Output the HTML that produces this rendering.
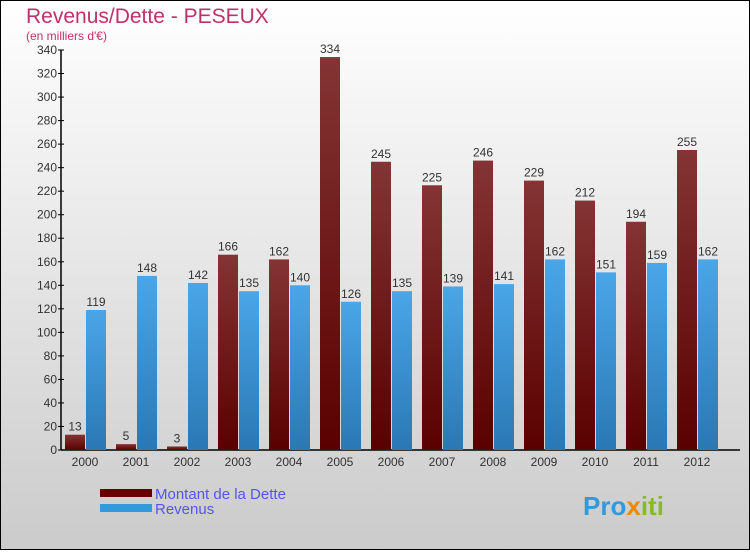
<!DOCTYPE html>
<html><head><meta charset="utf-8"><style>
body{margin:0;width:750px;height:550px;overflow:hidden;font-family:"Liberation Sans",sans-serif}
svg text{font-family:"Liberation Sans",sans-serif}
</style></head><body>
<svg id="c" width="750" height="550" xmlns="http://www.w3.org/2000/svg">
<defs>
<linearGradient id="bg" x1="0" y1="0" x2="0" y2="1"><stop offset="0" stop-color="#ffffff"/><stop offset="1" stop-color="#cbcbcb"/></linearGradient>
<linearGradient id="gd" x1="0" y1="0" x2="0" y2="1"><stop offset="0" stop-color="#843434"/><stop offset="1" stop-color="#5a0000"/></linearGradient>
<linearGradient id="gr" x1="0" y1="0" x2="0" y2="1"><stop offset="0" stop-color="#4aa6e8"/><stop offset="1" stop-color="#2a78b4"/></linearGradient>
</defs>
<rect x="0.5" y="0.5" width="749" height="549" fill="url(#bg)" stroke="#000"/>
<text x="26" y="23" font-size="21" fill="#c0306a">Revenus/Dette - PESEUX</text>
<text x="26" y="40" font-size="12" fill="#c0306a">(en milliers d'€)</text>
<g id="axes"></g><g id="bars"></g>
<rect x="100" y="489" width="52" height="8" fill="#660000"/>
<rect x="100" y="504" width="52" height="8" fill="#3399dd"/>
<text x="155" y="499" font-size="15" fill="#5555ee">Montant de la Dette</text>
<text x="155" y="514" font-size="15" fill="#5555ee">Revenus</text>
<text x="583" y="515" font-size="26" font-weight="bold" fill="#3399dd">Pro<tspan fill="#ee8800">x</tspan><tspan fill="#88bb22">iti</tspan></text>
</svg>
<script>
const years=["2000","2001","2002","2003","2004","2005","2006","2007","2008","2009","2010","2011","2012"];
const dette=[13,5,3,166,162,334,245,225,246,229,212,194,255];
const revenus=[119,148,142,135,140,126,135,139,141,162,151,159,162];
const ticks=[0,20,40,60,80,100,120,140,160,180,200,220,240,260,280,300,320,340];
const NS="http://www.w3.org/2000/svg";
const y=v=>450-v*400/340, x=i=>85+i*51;
function mk(t,a,p){const e=document.createElementNS(NS,t);for(const k in a)e.setAttribute(k,a[k]);p.appendChild(e);return e;}
const ax=document.getElementById('axes'),bs=document.getElementById('bars');
let l=mk('line',{x1:61,y1:50,x2:61,y2:450,stroke:'#000','stroke-width':1.5},ax);


l=mk('line',{x1:61,y1:450,x2:740,y2:450,stroke:'#000','stroke-width':1.5},ax);


ticks.forEach(v=>{
 const tk=mk('line',{x1:58,x2:64,y1:y(v),y2:y(v),stroke:'#000'},ax);
 
 
 const t=mk('text',{x:57,y:y(v)+4,'font-size':12,fill:'#333','text-anchor':'end'},ax);t.textContent=v;
 
 
});
years.forEach((yr,i)=>{
 const t=mk('text',{x:x(i),y:466,'font-size':12,fill:'#333','text-anchor':'middle'},ax);t.textContent=yr;
 
 
 const b1=mk('rect',{x:x(i)-20,y:y(dette[i]),width:20,height:450-y(dette[i]),fill:'url(#gd)'},bs);
 
 
 const b2=mk('rect',{x:x(i)+1,y:y(revenus[i]),width:20,height:450-y(revenus[i]),fill:'url(#gr)'},bs);
 
 
 const l1=mk('text',{x:x(i)-10,y:y(dette[i])-4,'font-size':12,fill:'#333','text-anchor':'middle'},bs);l1.textContent=dette[i];
 
 
 const l2=mk('text',{x:x(i)+11,y:y(revenus[i])-4,'font-size':12,fill:'#333','text-anchor':'middle'},bs);l2.textContent=revenus[i];
 
 
});
</script>
</body></html>
